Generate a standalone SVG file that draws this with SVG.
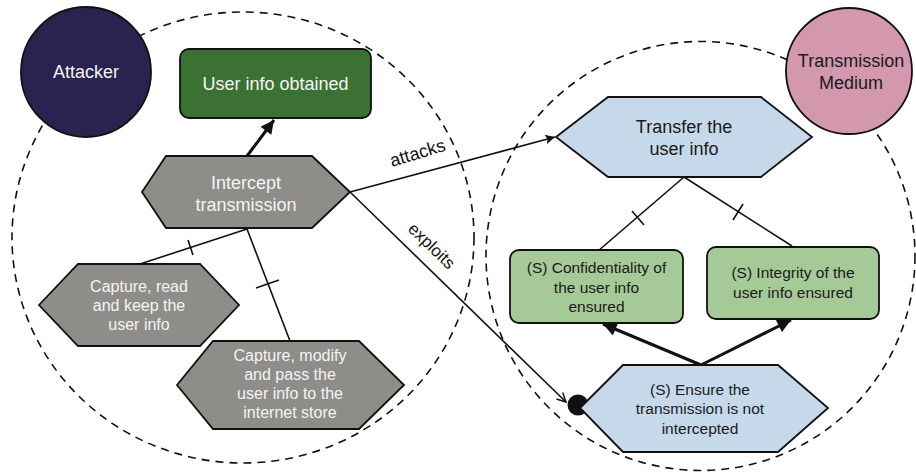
<svg xmlns="http://www.w3.org/2000/svg" width="916" height="475" viewBox="0 0 916 475">
<defs>
<style>
.bound{fill:none;stroke:#111;stroke-width:1.6;stroke-dasharray:8 6}
.hexg{fill:#8e8d8a;stroke:#111;stroke-width:1.8}
.hexb{fill:#c6d9ea;stroke:#111;stroke-width:1.8}
.boxg{fill:#a6c998;stroke:#111;stroke-width:1.8}
.wt{fill:#f4f4f4;font-family:"Liberation Sans",Arial,sans-serif;text-anchor:middle}
.dt{fill:#1a1a1a;font-family:"Liberation Sans",Arial,sans-serif;text-anchor:middle}
.thin{fill:none;stroke:#111;stroke-width:1.6}
.thick{fill:none;stroke:#111;stroke-width:3}
.lbl{fill:#111;font-family:"Liberation Sans",Arial,sans-serif}
</style>
<marker id="ah" viewBox="0 0 10 10" refX="10" refY="5" markerWidth="5" markerHeight="4.5" orient="auto" markerUnits="strokeWidth"><path d="M0,0 L10,5 L0,10 z" fill="#111"/></marker>
<marker id="ahs" viewBox="0 0 10 10" refX="10" refY="5" markerWidth="8" markerHeight="6" orient="auto" markerUnits="strokeWidth"><path d="M0,0 L10,5 L0,10 L2,5 z" fill="#111"/></marker>
<marker id="ahv" viewBox="0 0 10 10" refX="9" refY="5" markerWidth="7" markerHeight="7" orient="auto" markerUnits="strokeWidth"><path d="M1,1 L9,5 L1,9" fill="none" stroke="#111" stroke-width="1.3"/></marker>
</defs>
<rect width="916" height="475" fill="#fff"/>
<g id="boundaries">
<ellipse class="bound" cx="243" cy="237.5" rx="231" ry="225.5"/>
<circle class="bound" cx="700.5" cy="256" r="214.5"/>
</g>
<g id="connectors">
<line class="thick" x1="247" y1="156" x2="274" y2="120" marker-end="url(#ah)"/>
<line class="thin" x1="247" y1="229" x2="140" y2="264"/>
<line class="thin" x1="188" y1="240" x2="193" y2="255"/>
<line class="thin" x1="247" y1="229" x2="290" y2="341"/>
<line class="thin" x1="256" y1="288" x2="279" y2="280"/>
<line class="thin" x1="350" y1="192" x2="555" y2="137" marker-end="url(#ahs)"/>
<text class="lbl" font-size="18" transform="translate(392,167) rotate(-17)">attacks</text>
<line class="thin" x1="350" y1="192" x2="566" y2="402" marker-end="url(#ahv)"/>
<text class="lbl" font-size="17" transform="translate(407,230) rotate(44)">exploits</text>
<circle cx="578" cy="405" r="10.5" fill="#111"/>
<line class="thin" x1="684" y1="177" x2="598" y2="251"/>
<line class="thin" x1="632" y1="211" x2="644" y2="225"/>
<line class="thin" x1="684" y1="177" x2="792" y2="246"/>
<line class="thin" x1="743" y1="204" x2="733" y2="220"/>
<line class="thick" x1="701" y1="365" x2="603" y2="324" marker-end="url(#ah)"/>
<line class="thick" x1="701" y1="365" x2="791" y2="320" marker-end="url(#ah)"/>
</g>
<g id="attacker">
<circle cx="86" cy="72" r="65" fill="#2a2350" stroke="#111" stroke-width="1.8"/>
<text class="wt" x="86" y="78" font-size="18">Attacker</text>
</g>
<g id="medium">
<circle cx="849" cy="71" r="63" fill="#d398ae" stroke="#111" stroke-width="1.8"/>
<text class="dt" x="851" y="67" font-size="18">Transmission</text>
<text class="dt" x="851" y="89" font-size="18">Medium</text>
</g>
<g id="user-info-obtained">
<rect x="180" y="49" width="191" height="69" rx="9" fill="#3b7233" stroke="#111" stroke-width="1.8"/>
<text class="wt" x="275.5" y="90" font-size="18">User info obtained</text>
</g>
<g id="intercept">
<polygon class="hexg" points="142,192 166,156 312,156 350,192 312,228 166,228"/>
<text class="wt" x="246" y="189" font-size="18">Intercept</text>
<text class="wt" x="246" y="211" font-size="18">transmission</text>
</g>
<g id="capture-read">
<polygon class="hexg" points="39,305 78,264 200,264 239,305 200,346 78,346"/>
<text class="wt" x="139" y="292" font-size="16">Capture, read</text>
<text class="wt" x="139" y="311" font-size="16">and keep the</text>
<text class="wt" x="139" y="330" font-size="16">user info</text>
</g>
<g id="capture-modify">
<polygon class="hexg" points="177,385 213,341 359,341 404,385 359,429 213,429"/>
<text class="wt" x="290" y="361" font-size="16">Capture, modify</text>
<text class="wt" x="290" y="380" font-size="16">and pass the</text>
<text class="wt" x="290" y="399" font-size="16">user info to the</text>
<text class="wt" x="290" y="418" font-size="16">internet store</text>
</g>
<g id="transfer">
<polygon class="hexb" points="556,137 608,97 761,97 812,137 761,177 608,177"/>
<text class="dt" x="684" y="133" font-size="18">Transfer the</text>
<text class="dt" x="684" y="155" font-size="18">user info</text>
</g>
<g id="confidentiality">
<rect x="510" y="250" width="173" height="73" rx="9" class="boxg"/>
<text class="dt" x="596.5" y="273" font-size="15.5">(S) Confidentiality of</text>
<text class="dt" x="596.5" y="293" font-size="15.5">the user info</text>
<text class="dt" x="596.5" y="312" font-size="15.5">ensured</text>
</g>
<g id="integrity">
<rect x="707" y="247" width="172" height="72" rx="9" class="boxg"/>
<text class="dt" x="793" y="278" font-size="15.5">(S) Integrity of the</text>
<text class="dt" x="793" y="298" font-size="15.5">user info ensured</text>
</g>
<g id="ensure">
<polygon class="hexb" points="580,408 623,365 778,365 828,408 778,452 623,452"/>
<text class="dt" x="700" y="395" font-size="15.5">(S) Ensure the</text>
<text class="dt" x="700" y="414" font-size="15.5">transmission is not</text>
<text class="dt" x="700" y="434" font-size="15.5">intercepted</text>
</g>
</svg>
